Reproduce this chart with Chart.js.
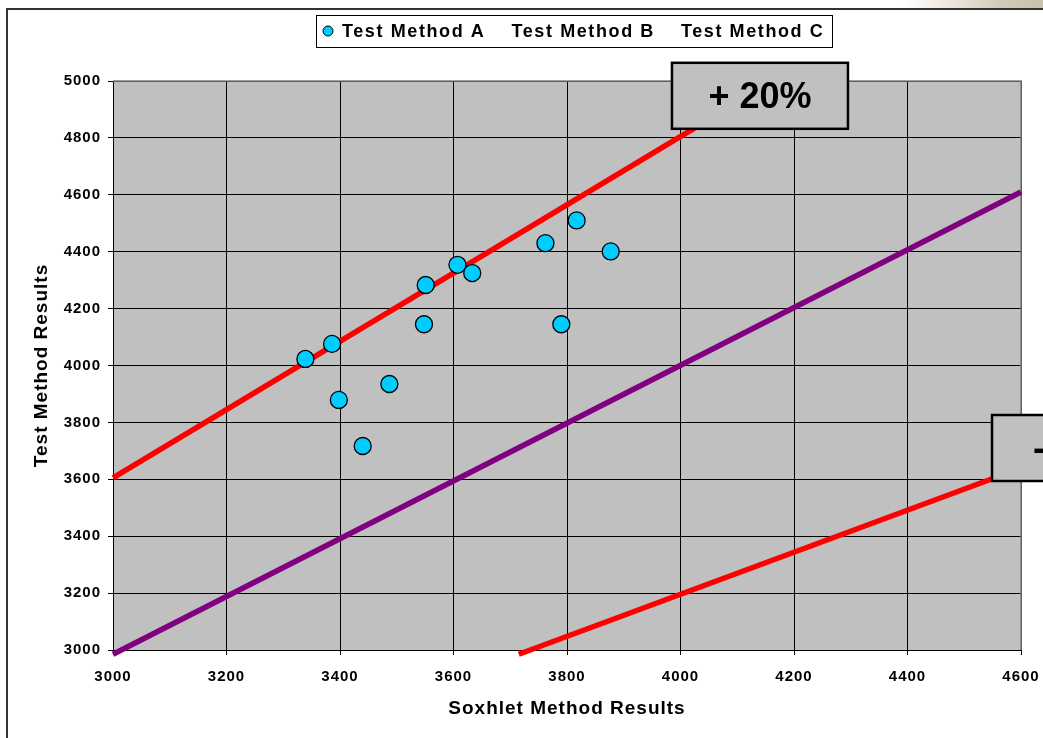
<!DOCTYPE html>
<html>
<head>
<meta charset="utf-8">
<script src="https://cdn.jsdelivr.net/npm/chart.js@4/dist/chart.umd.min.js"></script>
<style>
  html, body { margin: 0; padding: 0; background: #fff; }
  canvas { display: block; }
</style>
</head>
<body>
<canvas id="c" width="1043" height="738"></canvas>
<script>
// Soxhlet reference results vs. Test Method A results
const soxhletA = [3339, 3386, 3398, 3440, 3487, 3548, 3551, 3607, 3633, 3762, 3790, 3817, 3877];
const testA    = [4023, 4076, 3879, 3717, 3935, 4145, 4283, 4354, 4325, 4430, 4145, 4510, 4401];

const seriesLabels = ['Test Method A', 'Test Method B', 'Test Method C'];

// Agreement line and the +/-20% band lines
const parityX = [3000, 4600];
const parityY = [2985, 4610];
const upperX  = [3000, 4100];
const upperY  = [3605, 4925];
const lowerX  = [3715, 4560];
const lowerY  = [2985, 3610];

// Band captions, anchored in data units
const bandLabels = ['+ 20%', '- 20%'];
const bandLabelX = [4140, 4704];
const bandLabelY = [4948, 3710];

// Axis ranges and ticks
const xTicks = [3000, 3200, 3400, 3600, 3800, 4000, 4200, 4400, 4600];
const yTicks = [3000, 3200, 3400, 3600, 3800, 4000, 4200, 4400, 4600, 4800, 5000];

const FONT = '"Liberation Sans", Arial, Helvetica, sans-serif';
const zip = (xs, ys) => xs.map((x, i) => ({ x, y: ys[i] }));

const textSpacing = {
  id: 'textSpacing',
  beforeUpdate(chart) { chart.ctx.letterSpacing = '1px'; },
  beforeDraw(chart) { chart.ctx.letterSpacing = '1px'; }
};

const frame = {
  id: 'frame',
  beforeDraw(chart) {
    const { ctx, width, height, chartArea: a } = chart;
    ctx.save();
    ctx.fillStyle = '#fff';
    ctx.fillRect(0, 0, width, height);
    // picture strip peeking above the frame at the top right
    const g = ctx.createLinearGradient(900, 0, width, 0);
    g.addColorStop(0, 'rgba(236,230,222,0)');
    g.addColorStop(0.35, '#ece6de');
    g.addColorStop(0.7, '#d2cab8');
    g.addColorStop(1, '#c9c1ad');
    ctx.fillStyle = g;
    ctx.fillRect(900, 0, width - 900, 8);
    // outer chart frame
    ctx.strokeStyle = '#333';
    ctx.lineWidth = 2;
    ctx.beginPath();
    ctx.moveTo(width + 2, 9);
    ctx.lineTo(7, 9);
    ctx.lineTo(7, height + 2);
    ctx.stroke();
    // plot area fill
    ctx.fillStyle = '#c0c0c0';
    ctx.fillRect(a.left, a.top, a.right - a.left, a.bottom - a.top);
    ctx.restore();
  },
  beforeDatasetsDraw(chart) {
    const { ctx, chartArea: a } = chart;
    ctx.save();
    ctx.strokeStyle = '#808080';
    ctx.lineWidth = 1.5;
    ctx.beginPath();
    ctx.moveTo(a.left, a.top);
    ctx.lineTo(a.right, a.top);
    ctx.lineTo(a.right, a.bottom);
    ctx.stroke();
    ctx.restore();
  }
};

const bandCaptions = {
  id: 'bandCaptions',
  afterDatasetsDraw(chart) {
    const { ctx, scales: { x, y } } = chart;
    ctx.save();
    ctx.letterSpacing = '0px';
    ctx.font = 'bold 36px ' + FONT;
    ctx.textAlign = 'center';
    ctx.textBaseline = 'middle';
    bandLabels.forEach((t, i) => {
      const cx = x.getPixelForValue(bandLabelX[i]);
      const cy = y.getPixelForValue(bandLabelY[i]);
      const w = 176, h = 66;
      ctx.fillStyle = '#c0c0c0';
      ctx.fillRect(cx - w / 2, cy - h / 2, w, h);
      ctx.strokeStyle = '#000';
      ctx.lineWidth = 2.5;
      ctx.strokeRect(cx - w / 2, cy - h / 2, w, h);
      ctx.fillStyle = '#000';
      ctx.fillText(t, cx, cy + 2);
    });
    ctx.restore();
  }
};

const boxLegend = {
  id: 'boxLegend',
  afterDraw(chart) {
    const { ctx } = chart;
    const items = chart.data.datasets.filter(d => seriesLabels.includes(d.label));
    ctx.save();
    ctx.font = 'bold 18px ' + FONT;
    ctx.letterSpacing = '1.6px';
    ctx.textBaseline = 'middle';
    ctx.textAlign = 'left';
    const padL = 6, sym = 12, symGap = 8, itemGap = 6, padR = 8;
    const widths = items.map(d => ctx.measureText(d.label).width);
    let total = padL + padR;
    items.forEach((d, i) => {
      total += sym + symGap + widths[i] + (i < items.length - 1 ? itemGap : 0);
    });
    const left = 316, top = 15, h = 32;
    let xPos = left;
    ctx.fillStyle = '#fff';
    ctx.fillRect(xPos, top, total, h);
    ctx.strokeStyle = '#000';
    ctx.lineWidth = 1;
    ctx.strokeRect(xPos + 0.5, top + 0.5, Math.round(total), h);
    const midY = top + h / 2;
    xPos += padL;
    items.forEach((d, i) => {
      if (d.pointRadius > 0 && d.data.length) {
        ctx.beginPath();
        ctx.arc(xPos + sym / 2, midY, 5, 0, Math.PI * 2);
        ctx.fillStyle = d.backgroundColor;
        ctx.fill();
        ctx.lineWidth = 1;
        ctx.strokeStyle = '#000';
        ctx.stroke();
      }
      xPos += sym + symGap;
      ctx.fillStyle = '#000';
      ctx.fillText(d.label, xPos, midY + 1);
      xPos += widths[i] + itemGap;
    });
    ctx.restore();
  }
};

Chart.defaults.font.family = FONT;
Chart.defaults.font.weight = 'bold';
Chart.defaults.color = '#000';

const lineStyle = (color) => ({
  showLine: true,
  borderColor: color,
  backgroundColor: color,
  borderWidth: 5.5,
  pointRadius: 0,
  pointHoverRadius: 0,
  clip: false,
  order: 2
});

new Chart(document.getElementById('c'), {
  type: 'scatter',
  data: {
    datasets: [
      {
        label: seriesLabels[0],
        data: zip(soxhletA, testA),
        backgroundColor: '#00ccff',
        borderColor: '#000',
        borderWidth: 1.3,
        pointRadius: 8.5,
        pointHoverRadius: 8.5,
        order: 0
      },
      { label: seriesLabels[1], data: [], pointRadius: 0 },
      { label: seriesLabels[2], data: [], pointRadius: 0 },
      { label: 'Agreement', data: zip(parityX, parityY), ...lineStyle('#800080') },
      { label: 'Upper 20%', data: zip(upperX, upperY), ...lineStyle('#ff0000') },
      { label: 'Lower 20%', data: zip(lowerX, lowerY), ...lineStyle('#ff0000') }
    ]
  },
  options: {
    responsive: false,
    animation: false,
    events: [],
    layout: { padding: { left: 30, top: 81, right: 22, bottom: 18 } },
    plugins: {
      legend: { display: false },
      tooltip: { enabled: false }
    },
    scales: {
      x: {
        type: 'linear',
        min: xTicks[0],
        max: xTicks[xTicks.length - 1],
        afterBuildTicks(s) { s.ticks = xTicks.map(v => ({ value: v })); },
        afterFit(s) { s.height = 70; s.paddingLeft = 0; s.paddingRight = 0; },
        ticks: {
          font: { size: 15, weight: 'bold' },
          color: '#000',
          padding: 13,
          maxRotation: 0,
          callback: v => String(v)
        },
        grid: { color: '#000', lineWidth: 1, tickLength: 5, tickColor: '#000' },
        border: { color: '#000', width: 1 },
        title: {
          display: true,
          text: 'Soxhlet Method Results',
          font: { size: 19, weight: 'bold' },
          color: '#000',
          padding: 0
        }
      },
      y: {
        type: 'linear',
        min: yTicks[0],
        max: yTicks[yTicks.length - 1],
        afterBuildTicks(s) { s.ticks = yTicks.map(v => ({ value: v })); },
        afterFit(s) { s.width = 83; s.paddingTop = 0; s.paddingBottom = 0; },
        ticks: {
          font: { size: 15, weight: 'bold' },
          color: '#000',
          padding: 7,
          callback: v => String(v)
        },
        grid: { color: '#000', lineWidth: 1, tickLength: 5, tickColor: '#000' },
        border: { color: '#000', width: 1 },
        title: {
          display: true,
          text: 'Test Method Results',
          font: { size: 19, weight: 'bold' },
          color: '#000',
          padding: 0
        }
      }
    }
  },
  plugins: [textSpacing, frame, bandCaptions, boxLegend]
});
</script>
</body>
</html>
